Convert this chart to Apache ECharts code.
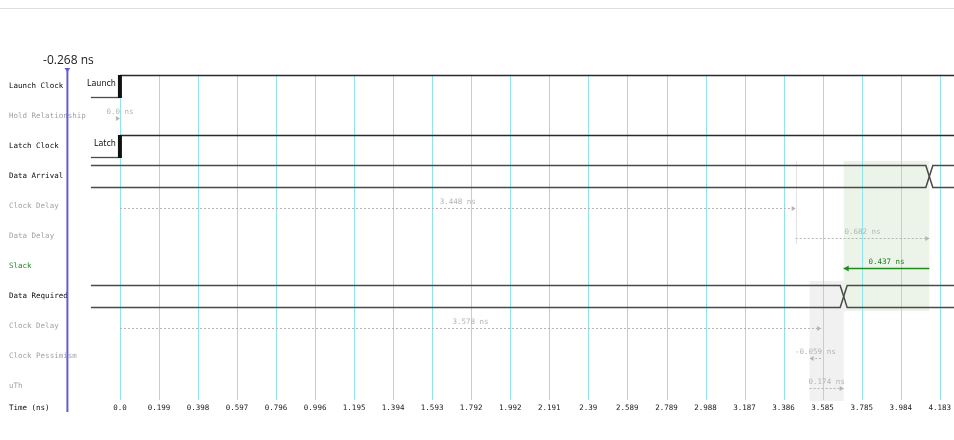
<!DOCTYPE html>
<html>
<head>
<meta charset="utf-8">
<script src="https://cdn.jsdelivr.net/npm/echarts@6/dist/echarts.min.js"></script>
<style>
  html, body { margin: 0; padding: 0; background: #fff; }
  #chart { width: 954px; height: 440px; }
</style>
</head>
<body>
<div id="chart"></div>
<script>
// Rows of the hold path report, top to bottom
const rowLabels = ['Launch Clock', 'Hold Relationship', 'Latch Clock', 'Data Arrival', 'Clock Delay',
  'Data Delay', 'Slack', 'Data Required', 'Clock Delay', 'Clock Pessimism', 'uTh'];

// Time axis labels (ns)
const tickLabels = ['0.0', '0.199', '0.398', '0.597', '0.796', '0.996', '1.195', '1.394', '1.593', '1.792',
  '1.992', '2.191', '2.39', '2.589', '2.789', '2.988', '3.187', '3.386', '3.585', '3.785', '3.984', '4.183'];
const tickValues = tickLabels.map(Number);

// Path timing (ns)
const launchEdge = 0.0;
const holdRelationship = 0.0;
const arrivalClockDelay = 3.448;
const arrivalDataDelay = 0.682;
const requiredClockDelay = 3.578;
const clockPessimism = -0.059;
const holdTime = 0.174;
const slack = 0.437;
const cursorTime = -0.268;
const waveStart = -0.148;

// Derived event times
const latchEdge = launchEdge + holdRelationship;
const arrivalClock = launchEdge + arrivalClockDelay;
const arrivalTime = arrivalClock + arrivalDataDelay;
const requiredClock = latchEdge + requiredClockDelay;
const requiredPess = requiredClock + clockPessimism;
const requiredTime = requiredPess + holdTime;

// Visible time window and plot frame
const PX_PER_NS = 196.1;
const ORIGIN_PX = 120;
const CHART_W = 954;
const xMin = -ORIGIN_PX / PX_PER_NS;
const xMax = (CHART_W - ORIGIN_PX) / PX_PER_NS;
const GRID_TOP = 71, GRID_BOTTOM = 401;
const MONO = '"DejaVu Sans Mono", "Liberation Mono", monospace';
const C = {
  dark: '#0a0a0a', dim: '#a2a2a2', green: '#1f8a1f', wave: '#4a4a4a',
  dotted: '#b4b4b4', grid: '#8fe4e9', cursor: '#5e5ed8'
};
const rowTone = { 'Slack': C.green, 'Launch Clock': C.dark, 'Latch Clock': C.dark, 'Data Arrival': C.dark, 'Data Required': C.dark };

const fmt = v => (v === 0 ? '0.0' : v.toFixed(3)) + ' ns';

// Delay arrows: [start, end, row]
const arrows = [
  [launchEdge, latchEdge, 1],
  [launchEdge, arrivalClock, 4],
  [arrivalClock, arrivalTime, 5],
  [arrivalTime, arrivalTime - slack, 6],
  [latchEdge, requiredClock, 8],
  [requiredClock, requiredPess, 9],
  [requiredPess, requiredTime, 10]
];
const arrowText = [fmt(holdRelationship), fmt(arrivalClockDelay), fmt(arrivalDataDelay), fmt(slack),
  fmt(requiredClockDelay), fmt(clockPessimism), fmt(holdTime)];

// Clock edges: [edge time, row]
const clocks = [[launchEdge, 0], [latchEdge, 2]];
const clockNames = ['Launch', 'Latch'];
// Bus transitions: [transition time, row]
const buses = [[arrivalTime, 3], [requiredTime, 7]];
// Shaded windows: [t0, t1, first row, last row]
const windows = [[requiredTime, arrivalTime, 3, 7], [requiredPess, requiredTime, 7, 10]];
const windowFill = ['rgba(110,170,90,0.13)', 'rgba(200,200,200,0.25)'];

const chart = echarts.init(document.getElementById('chart'), null, { renderer: 'canvas' });

const crisp = x => Math.round(x) + 0.5;

chart.setOption({
  animation: false,
  backgroundColor: '#fff',
  grid: { left: 0, right: 0, top: GRID_TOP, bottom: 440 - GRID_BOTTOM, containLabel: false },
  xAxis: {
    type: 'value', min: xMin, max: xMax,
    axisLine: { show: false }, axisTick: { show: false }, splitLine: { show: false },
    axisLabel: {
      customValues: tickValues, margin: 3, hideOverlap: false,
      fontFamily: MONO, fontSize: 7.5, color: '#222',
      formatter: v => tickLabels[tickValues.indexOf(v)] ?? ''
    }
  },
  yAxis: {
    type: 'category', inverse: true, data: rowLabels,
    axisLine: { show: false }, axisTick: { show: false }, splitLine: { show: false },
    axisLabel: {
      inside: true, margin: 9, fontFamily: MONO, fontSize: 7.5,
      color: v => rowTone[v] || C.dim
    }
  },
  graphic: [
    { type: 'line', shape: { x1: 0, y1: 8.5, x2: CHART_W, y2: 8.5 }, style: { stroke: '#dedede', lineWidth: 1 }, silent: true },
    { type: 'text', left: 9, top: 404, style: { text: 'Time (ns)', font: '7.5px ' + MONO, fill: C.dark }, silent: true }
  ],
  series: [
    // shaded windows
    {
      type: 'custom', silent: true, z: 1, data: windows,
      renderItem: (p, api) => {
        const a = api.coord([api.value(0), api.value(2)]);
        const b = api.coord([api.value(1), api.value(3)]);
        const h = api.size([0, 1])[1];
        return { type: 'rect', shape: { x: a[0], y: a[1] - h / 2, width: b[0] - a[0], height: b[1] - a[1] + h },
          style: { fill: windowFill[p.dataIndex] } };
      }
    },
    // time grid
    {
      type: 'custom', silent: true, z: 2, data: tickValues.map(v => [v, 0]),
      renderItem: (p, api) => {
        const x = crisp(api.coord([api.value(0), 0])[0]);
        return { type: 'line', shape: { x1: x, y1: 75, x2: x, y2: 400 }, style: { stroke: C.grid, lineWidth: 1 } };
      }
    },
    // clock launch point marker on the arrival path
    {
      type: 'custom', silent: true, z: 2, data: [[arrivalClock, 3, 5]],
      renderItem: (p, api) => {
        const a = api.coord([api.value(0), api.value(1)]);
        const b = api.coord([api.value(0), api.value(2)]);
        const h = api.size([0, 1])[1];
        const x = crisp(a[0]);
        return { type: 'line', shape: { x1: x, y1: a[1] - h / 2, x2: x, y2: b[1] + 8 }, style: { stroke: '#e4e4e4', lineWidth: 1 } };
      }
    },
    // clock waveforms
    {
      type: 'custom', silent: true, z: 5, data: clocks,
      renderItem: (p, api) => {
        const e = api.coord([api.value(0), api.value(1)]);
        const s = api.coord([waveStart, api.value(1)]);
        const hi = Math.round(e[1] - 11) + 0.5, lo = Math.round(e[1] + 11) + 0.5;
        return { type: 'group', children: [
          { type: 'line', shape: { x1: s[0], y1: lo, x2: e[0], y2: lo }, style: { stroke: C.wave, lineWidth: 1.3 } },
          { type: 'line', shape: { x1: e[0], y1: hi, x2: CHART_W, y2: hi }, style: { stroke: '#2a2a2a', lineWidth: 1.3 } },
          { type: 'rect', shape: { x: e[0] - 2, y: hi - 0.5, width: 4, height: lo - hi + 1 }, style: { fill: '#111' } },
          { type: 'text', x: e[0] - 4, y: e[1] - 2, style: { text: clockNames[p.dataIndex], fill: '#111',
            font: '8px "DejaVu Sans", sans-serif', align: 'right', verticalAlign: 'middle' } }
        ] };
      }
    },
    // bus waveforms with transitions
    {
      type: 'custom', silent: true, z: 5, data: buses,
      renderItem: (p, api) => {
        const t = api.coord([api.value(0), api.value(1)]);
        const s = api.coord([waveStart, api.value(1)]);
        const hi = Math.round(t[1] - 11) + 0.5, lo = Math.round(t[1] + 11) + 0.5;
        const d = 3.5;
        const st = { stroke: C.wave, lineWidth: 1.5, fill: null };
        return { type: 'group', children: [
          { type: 'polyline', shape: { points: [[s[0], hi], [t[0] - d, hi], [t[0] + d, lo], [CHART_W, lo]] }, style: st },
          { type: 'polyline', shape: { points: [[s[0], lo], [t[0] - d, lo], [t[0] + d, hi], [CHART_W, hi]] }, style: st }
        ] };
      }
    },
    // delay arrows with value labels
    {
      type: 'custom', silent: true, z: 6, data: arrows,
      renderItem: (p, api) => {
        const a = api.coord([api.value(0), api.value(2)]);
        const b = api.coord([api.value(1), api.value(2)]);
        const isSlack = p.dataIndex === 3;
        const col = isSlack ? C.green : C.dotted;
        const y = Math.round(a[1] + 2) + 0.5;
        const dir = b[0] >= a[0] ? 1 : -1;
        const len = isSlack ? 5 : 4, half = isSlack ? 3 : 2.5;
        const children = [
          { type: 'line', shape: { x1: a[0], y1: y, x2: b[0], y2: y },
            style: { stroke: col, lineWidth: isSlack ? 1.4 : 1, lineDash: isSlack ? null : [2, 2] } },
          { type: 'polygon', shape: { points: [[b[0], y], [b[0] - dir * len, y - half], [b[0] - dir * len, y + half]] },
            style: { fill: col } },
          { type: 'text', x: (a[0] + b[0]) / 2, y: a[1] - 4, style: { text: arrowText[p.dataIndex],
            fill: isSlack ? '#1a7d1a' : '#b4b4b4', font: '7.5px ' + MONO, align: 'center', verticalAlign: 'middle' } }
        ];
        return { type: 'group', children };
      }
    },
    // time cursor
    {
      type: 'custom', silent: true, z: 8, data: [[cursorTime, 0]],
      renderItem: (p, api) => {
        const x = api.coord([api.value(0), 0])[0];
        return { type: 'group', children: [
          { type: 'line', shape: { x1: x, y1: 69, x2: x, y2: 412 }, style: { stroke: C.cursor, lineWidth: 2 } },
          { type: 'polygon', shape: { points: [[x - 3, 68], [x + 3, 68], [x, 72]] }, style: { fill: C.cursor } },
          { type: 'text', x: x + 1, y: 61, style: { text: fmt(api.value(0)), fill: '#222',
            font: '12px "Open Sans", sans-serif', align: 'center', verticalAlign: 'middle' } }
        ] };
      }
    }
  ]
});
</script>
</body>
</html>
